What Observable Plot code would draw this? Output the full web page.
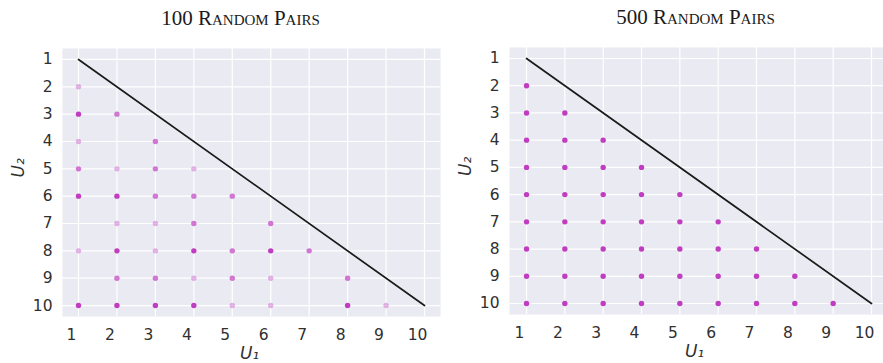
<!DOCTYPE html>
<html>
<head>
<meta charset="utf-8">
<script src="https://cdn.jsdelivr.net/npm/d3@7"></script>
<script src="https://cdn.jsdelivr.net/npm/@observablehq/plot@0.6"></script>
<style>
  html, body { margin: 0; padding: 0; background: #ffffff; }
  #wrap { position: relative; width: 883px; height: 363px; overflow: hidden; }
  #wrap svg { position: absolute; top: 0; }
</style>
</head>
<body>
<div id="wrap"></div>
<script>
// ---- data ----
const ticks = [1, 2, 3, 4, 5, 6, 7, 8, 9, 10];
const titles = ["100 Random Pairs", "500 Random Pairs"];
const axisLabels = ["U\u2081", "U\u2082"];

// left panel: 100 random pairs (count of overlapping pairs per cell)
const leftU1 =    [1, 1, 2, 1, 3, 1, 2, 3, 4, 1, 2, 3, 4, 5, 2, 3, 4, 6, 1, 2, 3, 4, 5, 6, 7, 2, 3, 4, 5, 6, 8, 1, 2, 3, 4, 5, 6, 8, 9];
const leftU2 =    [2, 3, 3, 4, 4, 5, 5, 5, 5, 6, 6, 6, 6, 6, 7, 7, 7, 7, 8, 8, 8, 8, 8, 8, 8, 9, 9, 9, 9, 9, 9, 10, 10, 10, 10, 10, 10, 10, 10];
const leftCount = [1, 3, 2, 1, 2, 2, 1, 2, 1, 3, 3, 2, 2, 2, 1, 1, 2, 2, 1, 3, 1, 3, 2, 3, 2, 2, 2, 1, 2, 1, 2, 3, 3, 3, 3, 1, 1, 3, 1];

// right panel: 500 random pairs (every cell hit)
const rightU1 = [1, 1, 2, 1, 2, 3, 1, 2, 3, 4, 1, 2, 3, 4, 5, 1, 2, 3, 4, 5, 6, 1, 2, 3, 4, 5, 6, 7, 1, 2, 3, 4, 5, 6, 7, 8, 1, 2, 3, 4, 5, 6, 7, 8, 9];
const rightU2 = [2, 3, 3, 4, 4, 4, 5, 5, 5, 5, 6, 6, 6, 6, 6, 7, 7, 7, 7, 7, 7, 8, 8, 8, 8, 8, 8, 8, 9, 9, 9, 9, 9, 9, 9, 9, 10, 10, 10, 10, 10, 10, 10, 10, 10];

// diagonal line
const lineU1 = [1, 10];
const lineU2 = [1, 10];

// ---- build ----
const leftData = leftU1.map((u, i) => ({u1: u, u2: leftU2[i], n: leftCount[i]}));
const rightData = rightU1.map((u, i) => ({u1: u, u2: rightU2[i], n: 3}));
const lineData = lineU1.map((u, i) => ({u1: u, u2: lineU2[i]}));

const dotColor = "#c03cc0";
const textColor = "#303030";

function panel(cfg) {
  return Plot.plot({
    width: cfg.width,
    height: 363,
    marginLeft: cfg.ml,
    marginRight: cfg.mr,
    marginTop: cfg.mt,
    marginBottom: cfg.mb,
    style: {fontFamily: "DejaVu Sans", color: textColor, background: "transparent", overflow: "visible"},
    x: {domain: cfg.xd},
    y: {domain: cfg.yd, reverse: true},
    opacity: {domain: [1, 3], range: [0.38, 1], clamp: true},
    marks: [
      Plot.frame({fill: "#EAEAF2", stroke: null}),
      Plot.gridX(ticks, {stroke: "#ffffff", strokeOpacity: 1, strokeWidth: 1.2}),
      Plot.gridY(ticks, {stroke: "#ffffff", strokeOpacity: 1, strokeWidth: 1.2}),
      Plot.axisX(ticks, {tickSize: 0, tickPadding: 12, dx: -7, fontSize: 15.5, fill: textColor, label: null}),
      Plot.axisY(ticks, {tickSize: 0, tickPadding: 10, fontSize: 15.5, fill: textColor, label: null}),
      Plot.dot(cfg.data, {x: "u1", y: "u2", r: 2.7, fill: dotColor, stroke: null, fillOpacity: "n"}),
      Plot.line(lineData, {x: "u1", y: "u2", stroke: "#1a1a1a", strokeWidth: 1.7}),
      Plot.text([cfg.title], {frameAnchor: "top", lineAnchor: "middle", dy: -30, dx: cfg.tdx,
        fontFamily: "Liberation Serif", fontVariant: "small-caps", fontSize: 21, fill: "#1a1a1a"}),
      Plot.text([axisLabels[0]], {frameAnchor: "bottom", lineAnchor: "middle", dy: 37, dx: -2,
        fontStyle: "italic", fontSize: 17, fill: textColor}),
      Plot.text([axisLabels[1]], {frameAnchor: "left", lineAnchor: "middle", rotate: -90, dx: -44, dy: -5,
        fontStyle: "italic", fontSize: 17, fill: textColor})
    ]
  });
}

const wrap = document.getElementById("wrap");
const left = panel({width: 441, ml: 62, mr: 1, mt: 48, mb: 47, xd: [0.584, 10.416], yd: [0.6, 10.4],
  data: leftData, title: titles[0], tdx: -11});
left.style.left = "0px";
wrap.appendChild(left);

const right = panel({width: 443, ml: 69, mr: 0, mt: 47, mb: 49, xd: [0.556, 10.313], yd: [0.596, 10.404],
  data: rightData, title: titles[1], tdx: -1});
right.style.left = "440px";
wrap.appendChild(right);
</script>
</body>
</html>
